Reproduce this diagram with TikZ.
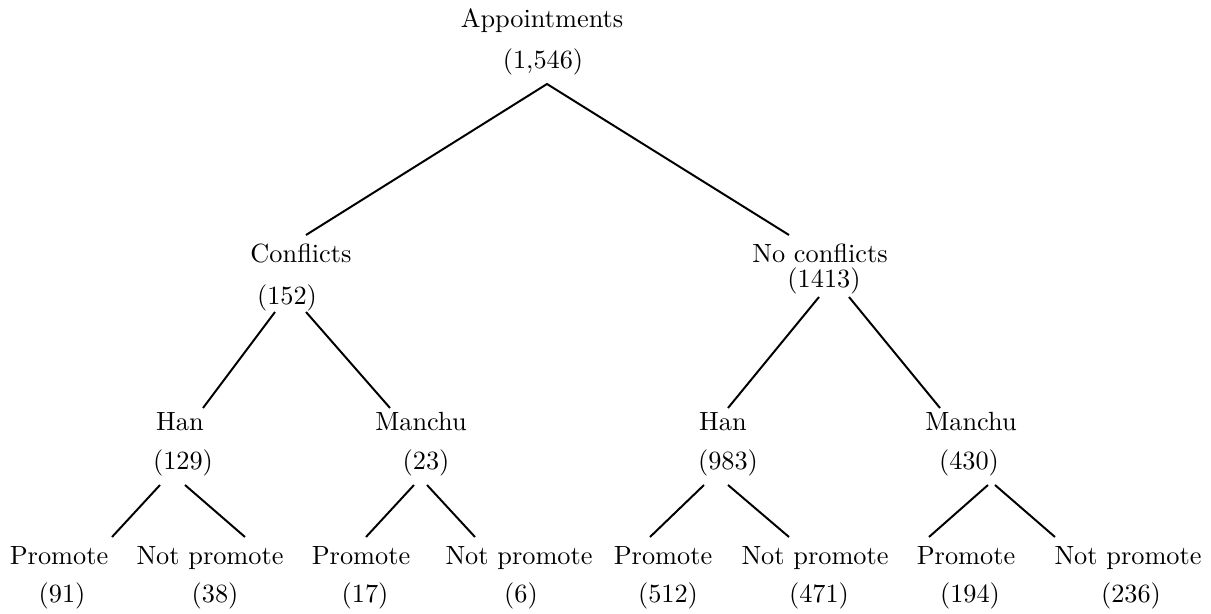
\documentclass[tikz,border=0pt]{standalone}
\begin{document}
\begin{tikzpicture}[x=0.38pt,y=-0.38pt,
  lbl/.style={inner sep=0pt,anchor=base},
  link/.style={line width=0.75pt}]
\useasboundingbox (0,0) rectangle (1211,614);
% root
\node[lbl] (a1) at (542,28) {Appointments};
\node[lbl] (a2) at (543,69) {(1,546)};
% level 1
\node[lbl] (c1) at (301,263) {Conflicts};
\node[lbl] (c2) at (287,305) {(152)};
\node[lbl] (n1) at (820,263) {No conflicts};
\node[lbl] (n2) at (824,288) {(1413)};
% level 2
\node[lbl] (h1) at (180,430) {Han};
\node[lbl] (h1n) at (183,469) {(129)};
\node[lbl] (m1) at (421,430) {Manchu};
\node[lbl] (m1n) at (426,469) {(23)};
\node[lbl] (h2) at (723,430) {Han};
\node[lbl] (h2n) at (728,469) {(983)};
\node[lbl] (m2) at (971,430) {Manchu};
\node[lbl] (m2n) at (969,469) {(430)};
% leaves
\node[lbl] (p1) at (59,565) {Promote};
\node[lbl] (p1n) at (62,602) {(91)};
\node[lbl] (q1) at (210,565) {Not promote};
\node[lbl] (q1n) at (215,602) {(38)};
\node[lbl] (p2) at (361,565) {Promote};
\node[lbl] (p2n) at (365,602) {(17)};
\node[lbl] (q2) at (519,565) {Not promote};
\node[lbl] (q2n) at (521,602) {(6)};
\node[lbl] (p3) at (663,565) {Promote};
\node[lbl] (p3n) at (668,602) {(512)};
\node[lbl] (q3) at (815,565) {Not promote};
\node[lbl] (q3n) at (819,602) {(471)};
\node[lbl] (p4) at (966,565) {Promote};
\node[lbl] (p4n) at (970,602) {(194)};
\node[lbl] (q4) at (1128,565) {Not promote};
\node[lbl] (q4n) at (1131,602) {(236)};
% edges
\draw[link] ([shift={(5,-28)}]c1.base) -- ([shift={(4,15)}]a2.base) -- ([shift={(-31,-28)}]n1.base);
\draw[link] ([shift={(-12,7)}]c2.base) -- ([shift={(23,-22)}]h1.base);
\draw[link] ([shift={(19,7)}]c2.base) -- ([shift={(-31,-22)}]m1.base);
\draw[link] ([shift={(-5,9)}]n2.base) -- ([shift={(5,-22)}]h2.base);
\draw[link] ([shift={(25,9)}]n2.base) -- ([shift={(-31,-22)}]m2.base);
\draw[link] ([shift={(-23,16)}]h1n.base) -- ([shift={(53,-28)}]p1.base);
\draw[link] ([shift={(2,16)}]h1n.base) -- ([shift={(35,-28)}]q1.base);
\draw[link] ([shift={(-12,16)}]m1n.base) -- ([shift={(5,-28)}]p2.base);
\draw[link] ([shift={(1,16)}]m1n.base) -- ([shift={(-44,-28)}]q2.base);
\draw[link] ([shift={(-24,16)}]h2n.base) -- ([shift={(-13,-28)}]p3.base);
\draw[link] ([shift={(0,16)}]h2n.base) -- ([shift={(-26,-28)}]q3.base);
\draw[link] ([shift={(19,16)}]m2n.base) -- ([shift={(-37,-28)}]p4.base);
\draw[link] ([shift={(26,16)}]m2n.base) -- ([shift={(-73,-28)}]q4.base);
\end{tikzpicture}
\end{document}
